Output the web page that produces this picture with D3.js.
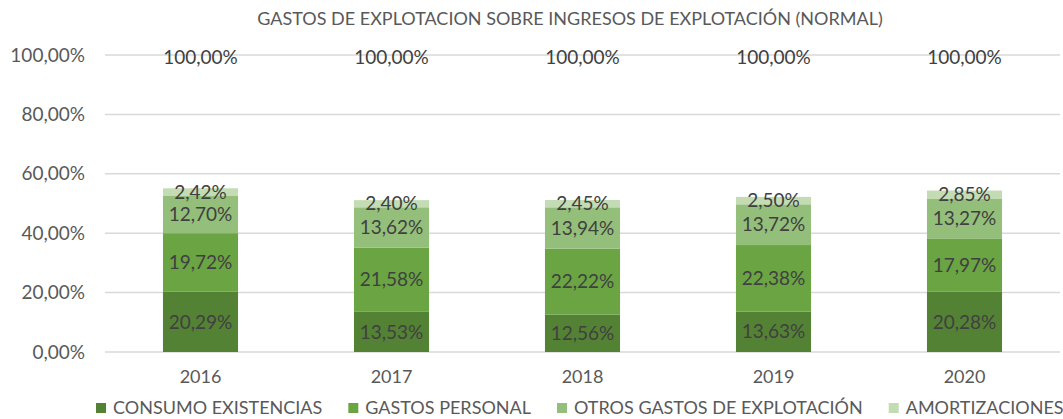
<!DOCTYPE html>
<html>
<head>
<meta charset="utf-8">
<script src="https://cdn.jsdelivr.net/npm/d3@7"></script>
<style>
  body { margin: 0; background: #fff; }
  text { font-family: Lato, "Noto Sans", sans-serif; }
</style>
</head>
<body>
<div id="chart"></div>
<script>
var years = ["2016", "2017", "2018", "2019", "2020"];
var seriesNames = ["CONSUMO EXISTENCIAS", "GASTOS PERSONAL", "OTROS GASTOS DE EXPLOTACIÓN", "AMORTIZACIONES"];
var consumo = [20.29, 13.53, 12.56, 13.63, 20.28];
var personal = [19.72, 21.58, 22.22, 22.38, 17.97];
var otros = [12.70, 13.62, 13.94, 13.72, 13.27];
var amort = [2.42, 2.40, 2.45, 2.50, 2.85];
var totals = [100, 100, 100, 100, 100];
var yTicks = [0, 20, 40, 60, 80, 100];
var colors = ["#548235", "#6aa443", "#94bf7a", "#c3dcb4"];

var W = 1063, H = 419;
var margin = {top: 55, right: 3, bottom: 67, left: 105},
    width = W - margin.left - margin.right,
    height = H - margin.top - margin.bottom;

var fmt = function(v) { return v.toFixed(2).replace(".", ",") + "%"; };

var svg = d3.select("#chart")
  .append("svg")
    .attr("width", W)
    .attr("height", H);

var g = svg.append("g")
    .attr("transform", "translate(" + margin.left + "," + margin.top + ")");

// title
svg.append("text")
  .attr("x", 570)
  .attr("y", 25)
  .attr("text-anchor", "middle")
  .attr("font-size", "18px")
  .attr("fill", "#595959")
  .text("GASTOS DE EXPLOTACION SOBRE INGRESOS DE EXPLOTACIÓN (NORMAL)");

var x = d3.scaleBand().domain(years).range([0, width])
  .paddingInner(0.607).paddingOuter(0.3035);
var y = d3.scaleLinear().domain([0, 100]).range([height, 0]);

// gridlines
g.selectAll(".grid")
  .data(yTicks)
  .enter().append("line")
    .attr("class", "grid")
    .attr("x1", 0)
    .attr("x2", width)
    .attr("y1", function(d) { return y(d); })
    .attr("y2", function(d) { return y(d); })
    .attr("stroke", "#d9d9d9")
    .attr("stroke-width", 1.5);

// y axis labels
var yAxis = d3.axisLeft(y).tickValues(yTicks).tickSize(0).tickPadding(20)
  .tickFormat(function(d) { return fmt(d); });
g.append("g").call(yAxis)
  .call(function(a) { a.select(".domain").remove(); })
  .selectAll("text")
    .attr("font-family", "Lato, 'Noto Sans', sans-serif")
    .attr("font-size", "19px")
    .attr("fill", "#595959");

// x axis labels
var xAxis = d3.axisBottom(x).tickSize(0).tickPadding(18);
g.append("g")
  .attr("transform", "translate(0," + height + ")")
  .call(xAxis)
  .call(function(a) { a.select(".domain").remove(); })
  .selectAll("text")
    .attr("font-family", "Lato, 'Noto Sans', sans-serif")
    .attr("font-size", "18px")
    .attr("fill", "#595959");

// stack
var rows = years.map(function(yr, i) {
  return {year: yr, s0: consumo[i], s1: personal[i], s2: otros[i], s3: amort[i]};
});
var stack = d3.stack().keys(["s0", "s1", "s2", "s3"]);
var layers = stack(rows);

var layer = g.selectAll(".layer")
  .data(layers)
  .enter().append("g")
    .attr("class", "layer")
    .attr("fill", function(d, i) { return colors[i]; });

layer.selectAll("rect")
  .data(function(d) { return d; })
  .enter().append("rect")
    .attr("x", function(d) { return x(d.data.year); })
    .attr("width", x.bandwidth())
    .attr("y", function(d) { return y(d[1]); })
    .attr("height", function(d) { return y(d[0]) - y(d[1]); });

layer.selectAll(".lbl")
  .data(function(d) { return d; })
  .enter().append("text")
    .attr("class", "lbl")
    .attr("x", function(d) { return x(d.data.year) + x.bandwidth() / 2; })
    .attr("y", function(d) { return (y(d[0]) + y(d[1])) / 2; })
    .attr("dy", "0.35em")
    .attr("text-anchor", "middle")
    .attr("font-size", "19px")
    .attr("fill", "#404040")
    .text(function(d) { return fmt(d[1] - d[0]); });

// totals row (100,00%)
g.selectAll(".total")
  .data(totals)
  .enter().append("text")
    .attr("class", "total")
    .attr("x", function(d, i) { return x(years[i]) + x.bandwidth() / 2; })
    .attr("y", function(d) { return y(d) + 2; })
    .attr("dy", "0.35em")
    .attr("text-anchor", "middle")
    .attr("font-size", "19px")
    .attr("fill", "#404040")
    .text(function(d) { return fmt(d); });

// legend
var legend = svg.append("g").attr("transform", "translate(96,408)");
var lx = 0;
seriesNames.forEach(function(name, i) {
  var item = legend.append("g").attr("transform", "translate(" + lx + ",0)");
  item.append("rect")
    .attr("x", 0).attr("y", -5)
    .attr("width", 10).attr("height", 10)
    .attr("fill", colors[i]);
  var t = item.append("text")
    .attr("x", 17)
    .attr("dy", "0.35em")
    .attr("font-size", "18px")
    .attr("fill", "#595959")
    .text(name);
  lx += 17 + t.node().getComputedTextLength() + 26;
});
</script>
</body>
</html>
